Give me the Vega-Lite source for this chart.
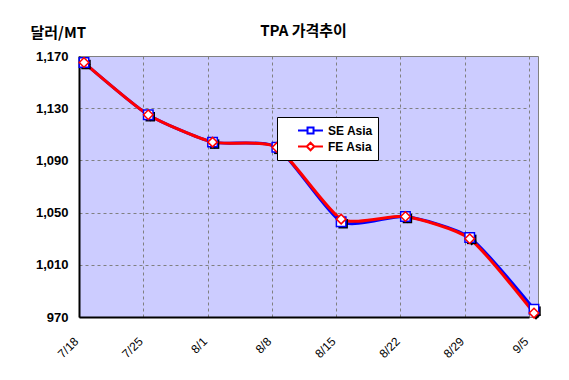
{
  "$schema": "https://vega.github.io/schema/vega-lite/v6.json",
  "autosize": {"type": "none"},
  "width": 459,
  "height": 261,
  "padding": {"left": 79, "top": 56, "right": 31, "bottom": 63},
  "background": "white",
  "title": {
    "text": "TPA 가격추이",
    "anchor": "middle",
    "dx": -5,
    "dy": 32,
    "offset": 18,
    "font": "Noto Sans CJK KR",
    "fontSize": 15,
    "fontWeight": "bold",
    "color": "black"
  },
  "config": {
    "view": {"stroke": "#808080", "strokeWidth": 1, "fill": "#CCCCFF"},
    "axis": {
      "labelFont": "Liberation Sans",
      "labelFontWeight": "bold",
      "labelColor": "black",
      "gridColor": "#808080",
      "gridDash": [3, 3],
      "gridWidth": 1,
      "gridOpacity": 1,
      "domainColor": "black",
      "domainWidth": 2,
      "ticks": false
    }
  },
  "data": {
    "values": [
      {"date": "7/18", "series": "SE Asia", "price": 1165},
      {"date": "7/25", "series": "SE Asia", "price": 1125},
      {"date": "8/1", "series": "SE Asia", "price": 1104},
      {"date": "8/8", "series": "SE Asia", "price": 1100},
      {"date": "8/15", "series": "SE Asia", "price": 1043},
      {"date": "8/22", "series": "SE Asia", "price": 1047},
      {"date": "8/29", "series": "SE Asia", "price": 1031},
      {"date": "9/5", "series": "SE Asia", "price": 976},
      {"date": "7/18", "series": "FE Asia", "price": 1165},
      {"date": "7/25", "series": "FE Asia", "price": 1125},
      {"date": "8/1", "series": "FE Asia", "price": 1104},
      {"date": "8/8", "series": "FE Asia", "price": 1100},
      {"date": "8/15", "series": "FE Asia", "price": 1045},
      {"date": "8/22", "series": "FE Asia", "price": 1047},
      {"date": "8/29", "series": "FE Asia", "price": 1030},
      {"date": "9/5", "series": "FE Asia", "price": 973}
    ]
  },
  "encoding": {
    "x": {
      "field": "date",
      "type": "ordinal",
      "sort": ["7/18", "7/25", "8/1", "8/8", "8/15", "8/22", "8/29", "9/5"],
      "scale": {"type": "point", "padding": 0, "range": [0, 450]},
      "axis": {
        "title": null,
        "grid": true,
        "labelAngle": -45,
        "labelAlign": "right",
        "labelBaseline": "middle",
        "labelPadding": 22,
        "labelOffset": -3,
        "labelFontSize": 12,
        "labelFontWeight": "normal"
      }
    },
    "y": {
      "field": "price",
      "type": "quantitative",
      "scale": {"domain": [970, 1170], "nice": false, "zero": false},
      "axis": {
        "values": [970, 1010, 1050, 1090, 1130, 1170],
        "format": ",.0f",
        "grid": true,
        "labelFontSize": 13,
        "labelPadding": 11,
        "title": "달러/MT",
        "titleFont": "Noto Sans CJK KR",
        "titleFontSize": 15,
        "titleFontWeight": "bold",
        "titleColor": "black",
        "titleAngle": 0,
        "titleAlign": "left",
        "titleBaseline": "middle",
        "titleX": -49,
        "titleY": -24
      }
    }
  },
  "resolve": {"scale": {"shape": "independent", "stroke": "independent"}},
  "layer": [
    {
      "mark": {"type": "line", "strokeWidth": 3, "interpolate": "cardinal", "tension": 0.4, "xOffset": 5},
      "encoding": {
        "color": {
          "field": "series",
          "type": "nominal",
          "scale": {"domain": ["SE Asia", "FE Asia"], "range": ["#0000FF", "#FF0000"]},
          "legend": null
        }
      }
    },
    {
      "mark": {"type": "point", "filled": true, "color": "black", "xOffset": 7, "yOffset": 2, "size": 90, "opacity": 1},
      "encoding": {
        "shape": {
          "field": "series",
          "type": "nominal",
          "scale": {"domain": ["SE Asia", "FE Asia"], "range": ["square", "diamond"]},
          "legend": null
        }
      }
    },
    {
      "mark": {"type": "point", "filled": true, "fill": "white", "size": 90, "strokeWidth": 1.5, "opacity": 1, "xOffset": 5},
      "encoding": {
        "shape": {
          "field": "series",
          "type": "nominal",
          "scale": {"domain": ["SE Asia", "FE Asia"], "range": ["square", "diamond"]},
          "legend": null
        },
        "stroke": {
          "field": "series",
          "type": "nominal",
          "scale": {"domain": ["SE Asia", "FE Asia"], "range": ["#0000FF", "#FF0000"]},
          "legend": null
        }
      }
    },
    {
      "mark": {"type": "point", "filled": true, "fill": "white", "opacity": 0},
      "encoding": {
        "shape": {
          "field": "series",
          "type": "nominal",
          "scale": {
            "domain": ["SE Asia", "FE Asia"],
            "range": [
              "M1,0H2.27M3.07,0H4.33M2.27,-0.4H3.07V0.4H2.27Z",
              "M1,0H2.17M3.17,0H4.33M2.17,0L2.67,-0.5L3.17,0L2.67,0.5Z"
            ]
          },
          "legend": {
            "title": null,
            "orient": "none",
            "legendX": 198,
            "legendY": 61,
            "fillColor": "white",
            "strokeColor": "black",
            "padding": 5,
            "rowPadding": 0,
            "labelFont": "Liberation Sans",
            "labelFontSize": 12,
            "labelFontWeight": "bold",
            "labelColor": "black",
            "labelOffset": 29,
            "symbolSize": 225,
            "symbolStrokeWidth": 2,
            "symbolFillColor": "white",
            "symbolOpacity": 1
          }
        },
        "stroke": {
          "field": "series",
          "type": "nominal",
          "scale": {"domain": ["SE Asia", "FE Asia"], "range": ["#0000FF", "#FF0000"]},
          "legend": {
            "title": null,
            "orient": "none",
            "legendX": 198,
            "legendY": 61,
            "fillColor": "white",
            "strokeColor": "black",
            "padding": 5,
            "rowPadding": 0,
            "labelFont": "Liberation Sans",
            "labelFontSize": 12,
            "labelFontWeight": "bold",
            "labelColor": "black",
            "labelOffset": 29,
            "symbolSize": 225,
            "symbolStrokeWidth": 2,
            "symbolFillColor": "white",
            "symbolOpacity": 1
          }
        }
      }
    }
  ]
}
